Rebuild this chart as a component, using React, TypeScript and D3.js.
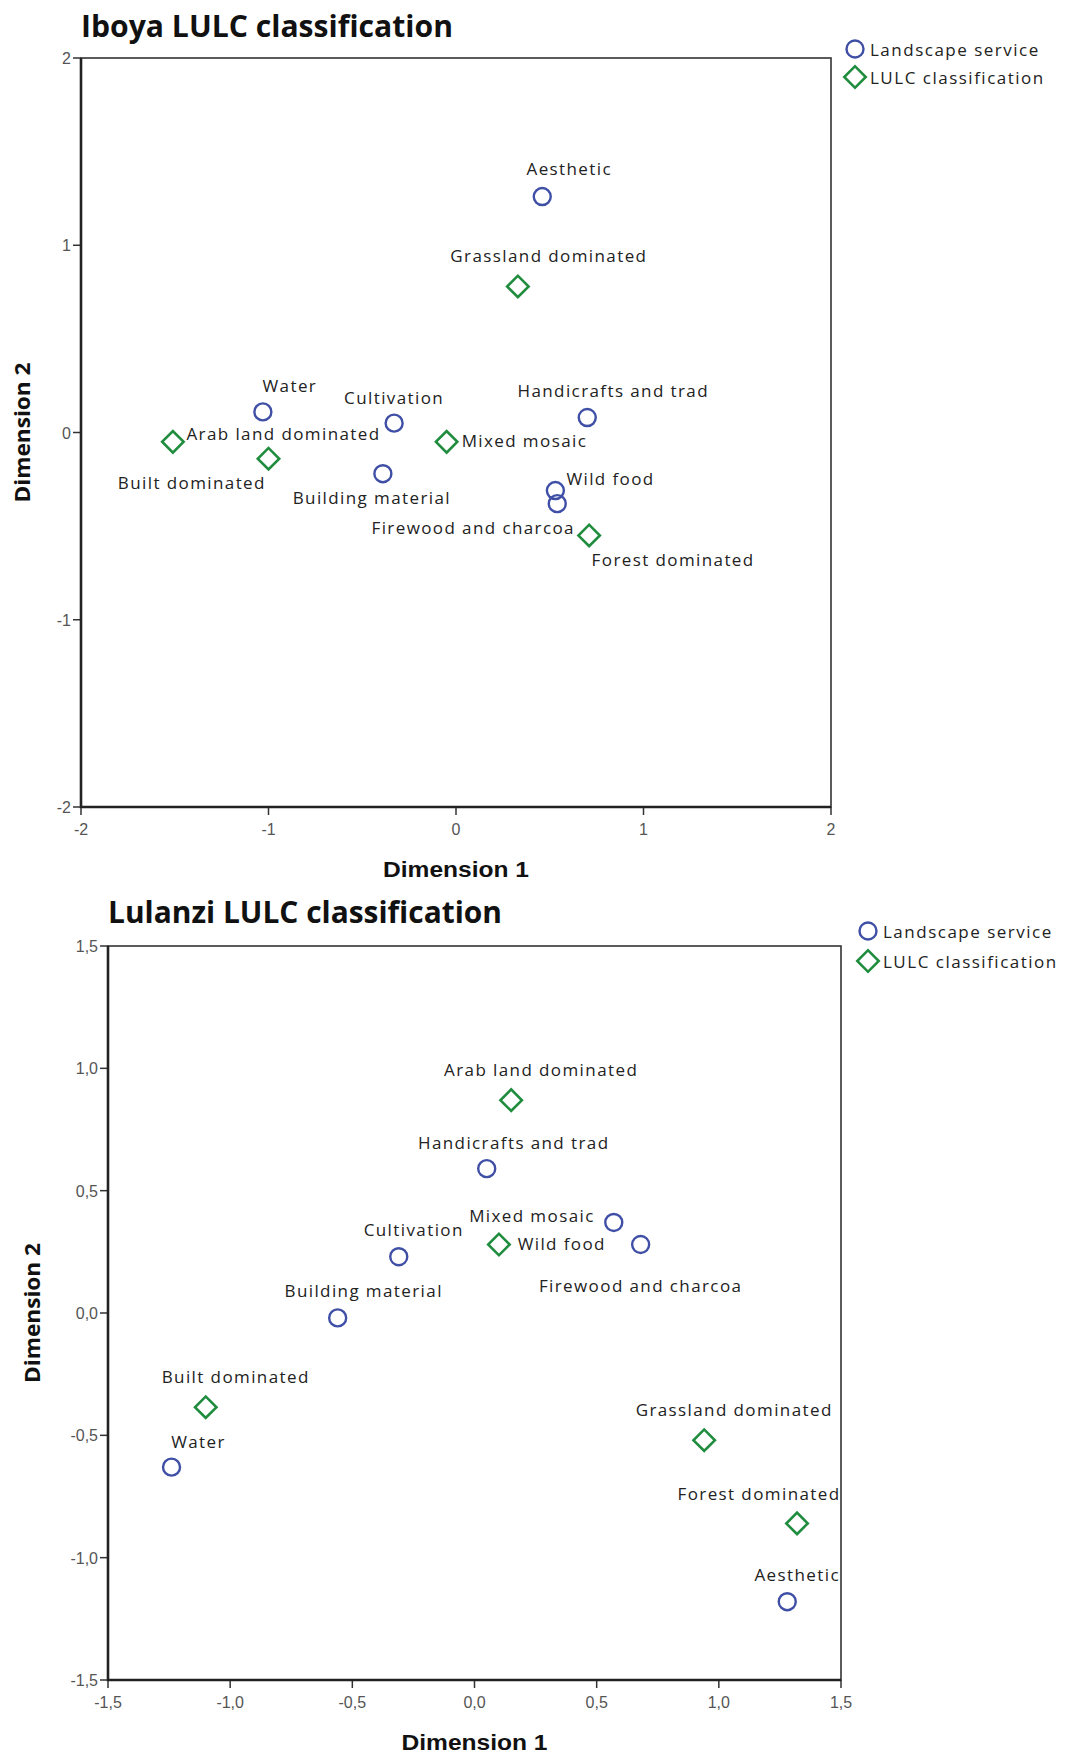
import React, { useEffect, useRef } from 'react';
import * as d3 from 'd3';

// Iboya - landscape services (circles)
const iboyaServiceNames = ['Aesthetic', 'Water', 'Cultivation', 'Handicrafts and trad', 'Building material', 'Wild food', 'Firewood and charcoa'];
const iboyaServiceDim1 = [0.46, -1.03, -0.33, 0.70, -0.39, 0.53, 0.54];
const iboyaServiceDim2 = [1.26, 0.11, 0.05, 0.08, -0.22, -0.31, -0.38];

// Iboya - LULC classes (diamonds)
const iboyaLulcNames = ['Grassland dominated', 'Built dominated', 'Arab land dominated', 'Mixed mosaic', 'Forest dominated'];
const iboyaLulcDim1 = [0.33, -1.51, -1.00, -0.05, 0.71];
const iboyaLulcDim2 = [0.78, -0.05, -0.14, -0.05, -0.55];

// Lulanzi - landscape services
const lulanziServiceNames = ['Handicrafts and trad', 'Cultivation', 'Building material', 'Water', 'Wild food', 'Firewood and charcoa', 'Aesthetic'];
const lulanziServiceDim1 = [0.05, -0.31, -0.56, -1.24, 0.57, 0.68, 1.28];
const lulanziServiceDim2 = [0.59, 0.23, -0.02, -0.63, 0.37, 0.28, -1.18];

// Lulanzi - LULC classes
const lulanziLulcNames = ['Arab land dominated', 'Mixed mosaic', 'Built dominated', 'Grassland dominated', 'Forest dominated'];
const lulanziLulcDim1 = [0.15, 0.10, -1.10, 0.94, 1.32];
const lulanziLulcDim2 = [0.87, 0.28, -0.385, -0.52, -0.86];

const iboyaTicks = [-2, -1, 0, 1, 2];
const lulanziTicks = [-1.5, -1.0, -0.5, 0.0, 0.5, 1.0, 1.5];

const legendLabels = ['Landscape service', 'LULC classification'];

// label offsets from the marker, in px: [dx, dy, anchor]
const iboyaLabelPos = {
  'Aesthetic': [27, -28, 'middle'],
  'Grassland dominated': [31, -31, 'middle'],
  'Water': [27, -26, 'middle'],
  'Cultivation': [0, -26, 'middle'],
  'Handicrafts and trad': [26, -27, 'middle'],
  'Arab land dominated': [15, -25, 'middle'],
  'Built dominated': [19, 41, 'middle'],
  'Mixed mosaic': [15, -1, 'start'],
  'Building material': [-11, 24, 'middle'],
  'Wild food': [11, -12, 'start'],
  'Firewood and charcoa': [-84, 24, 'middle'],
  'Forest dominated': [84, 24, 'middle'],
};
const lulanziLabelPos = {
  'Arab land dominated': [30, -31, 'middle'],
  'Handicrafts and trad': [27, -26, 'middle'],
  'Mixed mosaic': [33, -29, 'middle'],
  'Cultivation': [15, -27, 'middle'],
  'Wild food': [-52, 21, 'middle'],
  'Firewood and charcoa': [0, 41, 'middle'],
  'Building material': [26, -27, 'middle'],
  'Built dominated': [30, -31, 'middle'],
  'Water': [27, -26, 'middle'],
  'Grassland dominated': [30, -31, 'middle'],
  'Forest dominated': [-38, -30, 'middle'],
  'Aesthetic': [10, -27, 'middle'],
};

const BLUE = '#3f4fa6';
const GREEN = '#1f8c3e';
const LABEL_FONT = '"Open Sans", sans-serif';

// SPSS style: hyphen minus, comma decimals
const spssLocale = d3.formatLocale({ decimal: ',', thousands: '.', grouping: [3], currency: ['', ''], minus: '-' });

function drawPanel(root, cfg) {
  const g = root.append('g');
  const x = d3.scaleLinear().domain(cfg.domain).range([cfg.left, cfg.right]);
  const y = d3.scaleLinear().domain(cfg.domain).range([cfg.bottom, cfg.top]);

  // title
  g.append('text')
    .attr('x', cfg.left).attr('y', cfg.titleY)
    .attr('font-family', LABEL_FONT).attr('font-weight', 'bold')
    .attr('font-size', 30).attr('fill', '#111')
    .attr('textLength', cfg.titleWidth).attr('lengthAdjust', 'spacingAndGlyphs')
    .text(cfg.title);

  // ticks
  const fmt = cfg.fmt;
  const tickG = g.append('g').attr('font-family', '"Liberation Sans", Arial, sans-serif')
    .attr('font-size', 16).attr('fill', '#555');
  cfg.ticks.forEach(t => {
    tickG.append('line').attr('x1', x(t)).attr('x2', x(t))
      .attr('y1', cfg.bottom).attr('y2', cfg.bottom + 8).attr('stroke', '#333').attr('stroke-width', 1.5);
    tickG.append('text').attr('x', x(t)).attr('y', cfg.bottom + 28)
      .attr('text-anchor', 'middle').text(fmt(t));
    tickG.append('line').attr('y1', y(t)).attr('y2', y(t))
      .attr('x1', cfg.left - 8).attr('x2', cfg.left).attr('stroke', '#333').attr('stroke-width', 1.5);
    tickG.append('text').attr('x', cfg.left - 10).attr('y', y(t) + 6)
      .attr('text-anchor', 'end').text(fmt(t));
  });

  // axis titles
  g.append('text')
    .attr('x', (cfg.left + cfg.right) / 2).attr('y', cfg.bottom + 70)
    .attr('text-anchor', 'middle')
    .attr('font-family', '"Liberation Sans", Arial, sans-serif').attr('font-weight', 'bold')
    .attr('font-size', 22).attr('fill', '#111')
    .attr('textLength', 146).attr('lengthAdjust', 'spacingAndGlyphs')
    .text('Dimension 1');
  const cy = (cfg.top + cfg.bottom) / 2;
  g.append('text')
    .attr('transform', `translate(${cfg.dim2X},${cy}) rotate(-90)`)
    .attr('text-anchor', 'middle')
    .attr('font-family', LABEL_FONT).attr('font-weight', 'bold')
    .attr('font-size', 22).attr('fill', '#111')
    .attr('textLength', 140).attr('lengthAdjust', 'spacingAndGlyphs')
    .text('Dimension 2');

  // labels
  const labels = g.append('g').attr('font-family', LABEL_FONT).attr('font-size', 17)
    .attr('fill', '#222').attr('letter-spacing', 1.4).attr('dominant-baseline', 'central');
  const addLabel = (name, px, py) => {
    const p = cfg.labelPos[name];
    labels.append('text').attr('x', px + p[0]).attr('y', py + p[1])
      .attr('text-anchor', p[2]).text(name);
  };

  // diamonds
  cfg.lulcNames.forEach((n, i) => {
    const px = x(cfg.lulcX[i]);
    const py = y(cfg.lulcY[i]);
    g.append('path')
      .attr('d', d3.symbol(d3.symbolSquare, 230)())
      .attr('transform', `translate(${px},${py}) rotate(45)`)
      .attr('fill', 'none').attr('stroke', GREEN).attr('stroke-width', 2.6);
    addLabel(n, px, py);
  });
  // circles
  cfg.serviceNames.forEach((n, i) => {
    const px = x(cfg.serviceX[i]);
    const py = y(cfg.serviceY[i]);
    g.append('circle').attr('cx', px).attr('cy', py).attr('r', 8.5)
      .attr('fill', 'none').attr('stroke', BLUE).attr('stroke-width', 2.4);
    addLabel(n, px, py);
  });

  // frame
  g.append('rect').attr('x', cfg.left).attr('y', cfg.top)
    .attr('width', cfg.right - cfg.left).attr('height', cfg.bottom - cfg.top)
    .attr('fill', 'none').attr('stroke', '#333').attr('stroke-width', 1.6);
  g.append('path')
    .attr('d', `M${cfg.left},${cfg.top}V${cfg.bottom}H${cfg.right}`)
    .attr('fill', 'none').attr('stroke', '#222').attr('stroke-width', 2.6);

  // legend
  const lg = g.append('g').attr('font-family', LABEL_FONT).attr('font-size', 17)
    .attr('fill', '#222').attr('letter-spacing', 1.5).attr('dominant-baseline', 'central');
  lg.append('circle').attr('cx', cfg.legendX).attr('cy', cfg.legendY).attr('r', 8.5)
    .attr('fill', 'none').attr('stroke', BLUE).attr('stroke-width', 2.4);
  lg.append('text').attr('x', cfg.legendX + 15).attr('y', cfg.legendY).text(legendLabels[0]);
  lg.append('path')
    .attr('d', d3.symbol(d3.symbolSquare, 230)())
    .attr('transform', `translate(${cfg.legendX},${cfg.legendY + cfg.legendGap}) rotate(45)`)
    .attr('fill', 'none').attr('stroke', GREEN).attr('stroke-width', 2.6);
  lg.append('text').attr('x', cfg.legendX + 15).attr('y', cfg.legendY + cfg.legendGap).text(legendLabels[1]);
}

export default function App() {
  const ref = useRef(null);

  useEffect(() => {
    if (!ref.current) return;
    const svg = d3.select(ref.current);
    svg.selectAll('*').remove();

    drawPanel(svg, {
      title: 'Iboya LULC classification', titleY: 37, titleWidth: 372,
      left: 81, right: 831, top: 58, bottom: 807, domain: [-2, 2],
      ticks: iboyaTicks, fmt: spssLocale.format('d'),
      dim2X: 30,
      serviceNames: iboyaServiceNames, serviceX: iboyaServiceDim1, serviceY: iboyaServiceDim2,
      lulcNames: iboyaLulcNames, lulcX: iboyaLulcDim1, lulcY: iboyaLulcDim2,
      labelPos: iboyaLabelPos,
      legendX: 855, legendY: 49, legendGap: 28,
    });

    drawPanel(svg, {
      title: 'Lulanzi LULC classification', titleY: 923, titleWidth: 394,
      left: 108, right: 841, top: 946, bottom: 1680, domain: [-1.5, 1.5],
      ticks: lulanziTicks, fmt: spssLocale.format('.1f'),
      dim2X: 40,
      serviceNames: lulanziServiceNames, serviceX: lulanziServiceDim1, serviceY: lulanziServiceDim2,
      lulcNames: lulanziLulcNames, lulcX: lulanziLulcDim1, lulcY: lulanziLulcDim2,
      labelPos: lulanziLabelPos,
      legendX: 868, legendY: 931, legendGap: 30,
    });
  }, []);

  return (
    <svg ref={ref} width={1082} height={1758}
      style={{ position: 'absolute', left: 0, top: 0, background: '#fff' }} />
  );
}
